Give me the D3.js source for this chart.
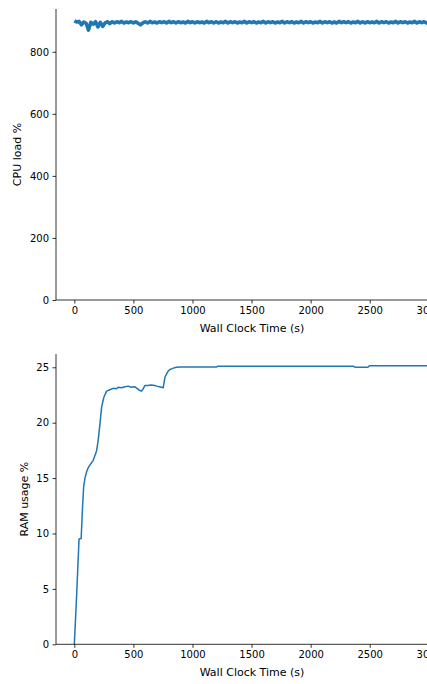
<!DOCTYPE html>
<html>
<head>
<meta charset="utf-8">
<script src="https://cdn.jsdelivr.net/npm/d3@7"></script>
<style>
  html, body { margin: 0; padding: 0; background: #fff; overflow: hidden; }
  svg { display: block; font-family: "DejaVu Sans", sans-serif; }
</style>
</head>
<body>
<svg id="chart" width="427" height="684"></svg>
<script>
// CPU load (%) sampled every 20 s of wall clock time
const cpuStepSeconds = 20;
const cpuLoad = [
  900, 896, 898, 887, 896, 892, 870, 895, 889, 897, 880, 895, 882, 893, 897, 891,
  897, 893, 897, 894, 898, 893, 896, 894, 897, 893,
  897, 892, 887, 893, 897, 893, 898, 894, 896, 893,
  897, 894, 897, 893, 898, 894, 897, 893, 897, 894,
  896, 893, 898, 894, 897, 893, 897, 894, 896, 893,
  898, 894, 897, 893, 897, 893, 896, 894, 898, 893,
  897, 894, 897, 893, 896, 894, 898, 893, 897, 894,
  897, 893, 896, 894, 898, 893, 897, 894, 897, 893,
  896, 894, 898, 893, 897, 894, 897, 893, 896, 894,
  898, 893, 897, 894, 897, 893, 896, 894, 898, 893,
  897, 894, 897, 893, 896, 893, 898, 894, 897, 894,
  897, 893, 896, 894, 898, 893, 897, 893, 897, 894,
  896, 894, 898, 893, 897, 894, 897, 893, 896, 894,
  898, 893, 897, 894, 897, 893, 896, 894, 898, 893,
  897, 894, 897, 893, 896, 894
];
const cpuTime = cpuLoad.map((_, i) => i * cpuStepSeconds);

// RAM usage (%) against wall clock time (s)
const ramTime = [
  0, 20, 40, 58, 70, 79, 90, 105, 118, 140,
  160, 180, 189, 202, 217, 231, 250, 273, 301, 330,
  358, 371, 400, 430, 456, 480, 510, 530, 555, 569,
  583, 598, 620, 650, 680, 696, 720, 738, 752, 767,
  781, 794, 810, 823, 845, 865, 900, 1000, 1205, 1212,
  1500, 2000, 2365, 2375, 2485, 2495, 3010
];
const ramUsage = [
  0, 4.5, 9.5, 9.55, 12.5, 14.2, 15.0, 15.6, 15.95, 16.3,
  16.6, 17.2, 17.5, 18.4, 19.9, 21.4, 22.3, 22.85, 22.97, 23.1,
  23.06, 23.2, 23.15, 23.25, 23.3, 23.2, 23.25, 23.1, 22.9, 22.85,
  23.06, 23.36, 23.35, 23.4, 23.35, 23.3, 23.25, 23.2, 23.15, 24.1,
  24.4, 24.65, 24.8, 24.86, 24.95, 25.0, 25.02, 25.02, 25.02, 25.1,
  25.1, 25.1, 25.1, 25.0, 25.0, 25.13, 25.13
];

const xTicks = [0, 500, 1000, 1500, 2000, 2500, 3000];
const cpuTicks = [0, 200, 400, 600, 800];
const ramTicks = [0, 5, 10, 15, 20, 25];

const xLabel = "Wall Clock Time (s)";
const cpuLabel = "CPU load %";
const ramLabel = "RAM usage %";

const svg = d3.select("#chart");
const lineColor = "#1f77b4";
const axisColor = "#000";
const tickFont = 10;
const labelFont = 11;

const x = d3.scaleLinear().domain([-155, 3160]).range([56, 447.7]);

function panel(opts) {
  const { top, bottom, yDomain, yTicks, yLabel, yLabelX, xs, ys, width } = opts;
  const y = d3.scaleLinear().domain(yDomain).range([bottom, top]);
  const g = svg.append("g");

  // data line
  const line = d3.line().x(d => x(d[0])).y(d => y(d[1]));
  g.append("path")
    .datum(xs.map((t, i) => [t, ys[i]]))
    .attr("fill", "none")
    .attr("stroke", lineColor)
    .attr("stroke-width", width)
    .attr("stroke-linejoin", "round")
    .attr("stroke-linecap", "butt")
    .attr("d", line);

  // x axis
  const xAxis = d3.axisBottom(x).tickValues(xTicks).tickSize(3.5).tickPadding(3.5)
    .tickFormat(d3.format("d"));
  const gx = g.append("g").attr("transform", `translate(0,${bottom})`).call(xAxis);
  gx.select(".domain").attr("stroke", axisColor).attr("stroke-width", 0.8)
    .attr("d", `M${x.range()[0]},0H${x.range()[1]}`);
  gx.selectAll(".tick line").attr("stroke", axisColor).attr("stroke-width", 0.8);
  gx.selectAll(".tick text").attr("fill", "#000").attr("font-size", tickFont)
    .attr("font-family", "DejaVu Sans");

  // y axis
  const yAxis = d3.axisLeft(y).tickValues(yTicks).tickSize(3.5).tickPadding(3.5)
    .tickFormat(d3.format("d"));
  const gy = g.append("g").attr("transform", `translate(${x.range()[0]},0)`).call(yAxis);
  gy.select(".domain").attr("stroke", axisColor).attr("stroke-width", 0.8)
    .attr("d", `M0,${top}V${bottom}`);
  gy.selectAll(".tick line").attr("stroke", axisColor).attr("stroke-width", 0.8);
  gy.selectAll(".tick text").attr("fill", "#000").attr("font-size", tickFont)
    .attr("font-family", "DejaVu Sans");

  // axis titles
  g.append("text")
    .attr("x", 252).attr("y", bottom + 31.5)
    .attr("text-anchor", "middle")
    .attr("font-size", labelFont).attr("fill", "#000")
    .text(xLabel);
  g.append("text")
    .attr("transform", `translate(${yLabelX},${(top + bottom) / 2}) rotate(-90)`)
    .attr("text-anchor", "middle")
    .attr("font-size", labelFont).attr("fill", "#000")
    .text(yLabel);
}

panel({
  top: 9, bottom: 300, yDomain: [0, 938], yTicks: cpuTicks,
  yLabel: cpuLabel, yLabelX: 21, xs: cpuTime, ys: cpuLoad, width: 3.6
});
panel({
  top: 354, bottom: 644.3, yDomain: [0, 26.2], yTicks: ramTicks,
  yLabel: ramLabel, yLabelX: 28, xs: ramTime, ys: ramUsage, width: 1.5
});
</script>
</body>
</html>
